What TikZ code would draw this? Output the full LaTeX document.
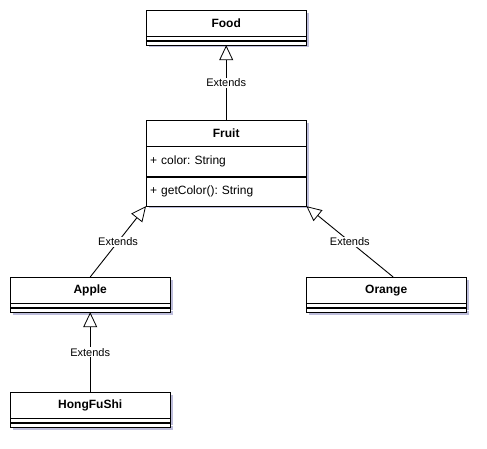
\documentclass[tikz,border=0pt]{standalone}
\usepackage{fontspec}
\setmainfont{Liberation Sans}
\usetikzlibrary{positioning,arrows.meta,shadows}
\frenchspacing

\begin{document}
\begin{tikzpicture}[x=1pt, y=-1pt, node distance=0pt,
  every node/.style={font=\fontsize{12}{14}\selectfont},
  boxshadow/.style={drop shadow={shadow xshift=2.5pt, shadow yshift=-2.5pt, opacity=0.4, fill=blue!30!gray}},
  classname/.style={draw, fill=white, boxshadow, minimum width=160pt, minimum height=26pt, inner sep=0pt, font=\fontsize{12}{14}\selectfont\bfseries},
  members/.style={draw, fill=white, boxshadow, minimum width=160pt, text width=152pt, inner sep=4pt, align=left},
  emptysec/.style={draw, fill=white, boxshadow, minimum width=160pt, minimum height=4pt, inner sep=0pt},
  extends/.style={draw, line width=0.9pt, -{Triangle[length=15pt, width=14pt, fill=white, line width=0.8pt]}},
  lbl/.style={fill=white, inner sep=1pt, font=\fontsize{11}{12}\selectfont}]
\useasboundingbox (0,0) rectangle (487,449);

% Food class
\node (food) [classname, anchor=north west] at (146,10) {Food};
\node (food-attr) [emptysec, below=of food] {};
\node (food-ops) [emptysec, below=of food-attr] {};

% Fruit class
\node (fruit) [classname, anchor=north west] at (146,120) {Fruit};
\node (fruit-attr) [members, minimum height=30pt, below=of fruit] {+ color: String};
\node (fruit-ops) [members, minimum height=29pt, below=of fruit-attr] {+ getColor(): String};

% Apple and Orange classes
\node (apple) [classname, anchor=north west] at (10,277) {Apple};
\node (apple-attr) [emptysec, below=of apple] {};
\node (apple-ops) [emptysec, below=of apple-attr] {};

\node (orange) [classname, anchor=north west] at (306,277) {Orange};
\node (orange-attr) [emptysec, below=of orange] {};
\node (orange-ops) [emptysec, below=of orange-attr] {};

% HongFuShi class
\node (hongfushi) [classname, anchor=north west] at (10,392) {HongFuShi};
\node (hongfushi-attr) [emptysec, below=of hongfushi] {};
\node (hongfushi-ops) [emptysec, below=of hongfushi-attr] {};

% Generalisation arrows
\draw[extends] (fruit.north) -- node[lbl] {Extends} (food-ops.south);
\draw[extends] (apple.north) -- node[lbl] {Extends} (fruit-ops.south west);
\draw[extends] ([xshift=7pt]orange.north) -- node[lbl] {Extends} (fruit-ops.south east);
\draw[extends] (hongfushi.north) -- node[lbl] {Extends} (apple-ops.south);
\end{tikzpicture}
\end{document}
